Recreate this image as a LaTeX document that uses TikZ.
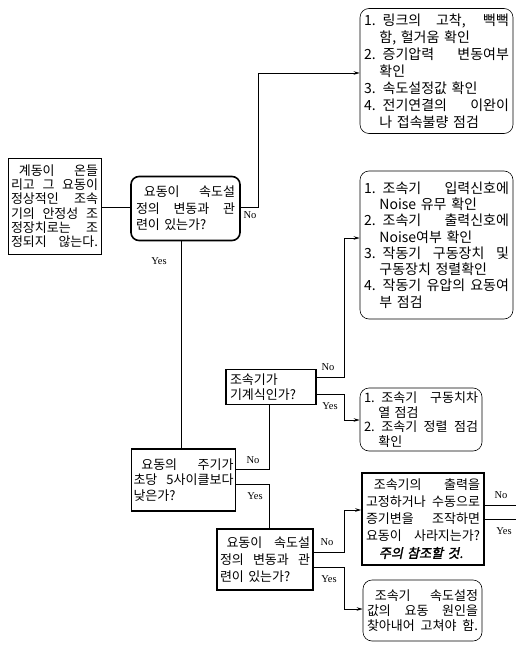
\documentclass[tikz,border=0pt]{standalone}
\usepackage{fontspec}
\setmainfont{Noto Sans CJK KR}
\newfontfamily\lat{Liberation Serif}
\newfontfamily\krbi{Noto Sans CJK KR}[FakeSlant=0.2,FakeBold=2]
\usetikzlibrary{arrows.meta}
\newcommand\J[1]{\makebox[\linewidth][s]{\spaceskip=0.25em plus 1fil\relax#1}}
\begin{document}
\begin{tikzpicture}[x=1pt,y=-1pt,
 every node/.style={inner sep=0pt},
 tbox/.style={draw, line width=0.6pt, align=left, font=\fontsize{13}{14.5}\selectfont},
 rbox/.style={tbox, rounded corners=9pt},
 hbox/.style={tbox, line width=1.6pt},
 hrbox/.style={hbox, rounded corners=8pt},
 lbl/.style={font=\lat\fontsize{10.5}{12}\selectfont},
 conn/.style={line width=0.8pt},
 arr/.style={conn, -{Stealth[length=6pt,width=3.5pt]}}]
\fill[white] (0,0) rectangle (522,647);
\useasboundingbox (0,0) rectangle (522,647);

% boxes
\node[tbox, minimum width=93pt, minimum height=96pt, text width=87pt, font=\fontsize{13}{14.3}\selectfont] (L) at (54.5,206)
 {\J{\hspace{0.6em}계동이 온들}\\\J{리고 그 요동이}\\\J{정상적인 조속}\\\J{기의 안정성 조}\\\J{정장치로는 조}\\\J{정되지 않는다.}};

\node[hrbox, minimum width=109pt, minimum height=64pt, text width=99pt, font=\fontsize{13}{16.5}\selectfont] (D1) at (185.5,208.5)
 {\J{\hspace{0.6em}요동이 속도설}\\\J{정의 변동과 관}\\련이 있는가?};

\node[rbox, minimum width=153pt, minimum height=125pt, text width=145pt, font=\fontsize{14}{17}\selectfont] (R1) at (436.5,71)
 {\J{1. 링크의 고착, 뻑뻑}\\\hspace*{1.1em}함, 헐거움 확인\\\J{2. 증기압력 변동여부}\\\hspace*{1.1em}확인\\3. 속도설정값 확인\\\J{4. 전기연결의 이완이}\\\hspace*{1.1em}나 접속불량 점검};

\node[rbox, minimum width=153pt, minimum height=148pt, text width=145pt, font=\fontsize{14}{16.3}\selectfont] (R2) at (436.5,245)
 {\J{1. 조속기 입력신호에}\\\hspace*{1.1em}Noise 유무 확인\\\J{2. 조속기 출력신호에}\\\hspace*{1.1em}Noise여부 확인\\\J{3. 작동기 구동장치 및}\\\hspace*{1.1em}구동장치 정렬확인\\\J{4. 작동기 유압의 요동여}\\\hspace*{1.1em}부 점검};

\node[hbox, minimum width=90pt, minimum height=35pt, text width=82pt, font=\fontsize{13}{15.5}\selectfont] (D2) at (271,387)
 {조속기가\\기계식인가?};

\node[rbox, minimum width=122pt, minimum height=63pt, text width=114pt, font=\fontsize{13}{14.5}\selectfont] (R3) at (421,419.5)
 {\J{1. 조속기 구동치차}\\\hspace*{1.1em}열 점검\\\J{2. 조속기 정렬 점검}\\\hspace*{1.1em}확인};

\node[hbox, minimum width=104pt, minimum height=62pt, text width=100pt, font=\fontsize{13}{15.5}\selectfont] (D3) at (183.5,480)
 {\J{\hspace{0.6em}요동의 주기가}\\\J{초당 5사이클보다}\\낮은가?};

\node[hbox, minimum width=96pt, minimum height=61pt, text width=90pt, font=\fontsize{13}{17}\selectfont] (D4) at (265,559.5)
 {\J{\hspace{0.5em}요동이 속도설}\\\J{정의 변동과 관}\\련이 있는가?};

\node[hbox, minimum width=122pt, minimum height=92pt, text width=114pt, font=\fontsize{13}{17}\selectfont] (R4) at (423,519)
 {\J{\hspace{0.6em}조속기의 출력을}\\\J{고정하거나 수동으로}\\\J{증기변을 조작하면}\\\J{요동이 사라지는가?}\\\hspace*{1em}{\krbi 주의 참조할 것.}};

\node[rbox, minimum width=119pt, minimum height=61pt, text width=111pt, font=\fontsize{13}{15}\selectfont] (R5) at (422.5,610.5)
 {\J{\hspace{0.6em}조속기 속도설정}\\\J{값의 요동 원인을}\\\J{찾아내어 고쳐야 함.}};

% connectors
\coordinate (vx) at (181,0);
\draw[conn] (L.east |- 0,207) -- (D1.west |- 0,207);
\draw[arr] (D1.east |- 0,207) -- (258,207) -- (258,73) -- (R1.west |- 0,73);
\draw[conn] (D1.south -| vx) -- (D3.north -| vx);
\draw[conn] (D3.east |- 0,469) -- (269,469) -- (269,0 |- D2.south);
\draw[arr] (D2.east |- 0,377) -- (344,377) -- (344,238) -- (R2.west |- 0,238);
\draw[arr] (D2.east |- 0,394) -- (344,394) -- (344,420) -- (R3.west |- 0,420);
\draw[conn] (D3.east |- 0,484) -- (269,484) -- (269,0 |- D4.north);
\draw[arr] (D4.east |- 0,552) -- (344,552) -- (344,510) -- (R4.west |- 0,510);
\draw[arr] (D4.east |- 0,567) -- (344,567) -- (344,609) -- (R5.west |- 0,609);
\coordinate (eNo) at (516,505);
\coordinate (eYes) at (516,519);
\draw[conn] (R4.east |- eNo) -- (eNo);
\draw[conn] (R4.east |- eYes) -- (eYes);

% labels
\node[lbl] (l1) at (250,215) {No};
\node[lbl] (l2) at (159,261) {Yes};
\node[lbl] (l3) at (328,367) {No};
\node[lbl] (l4) at (330,406) {Yes};
\node[lbl] (l5) at (253,460) {No};
\node[lbl] (l6) at (255,496) {Yes};
\node[lbl] (l7) at (327,542) {No};
\node[lbl] (l8) at (329,579) {Yes};
\node[lbl] (l9) at (501,495) {No};
\node[lbl] (l10) at (504,531) {Yes};
\end{tikzpicture}
\end{document}
